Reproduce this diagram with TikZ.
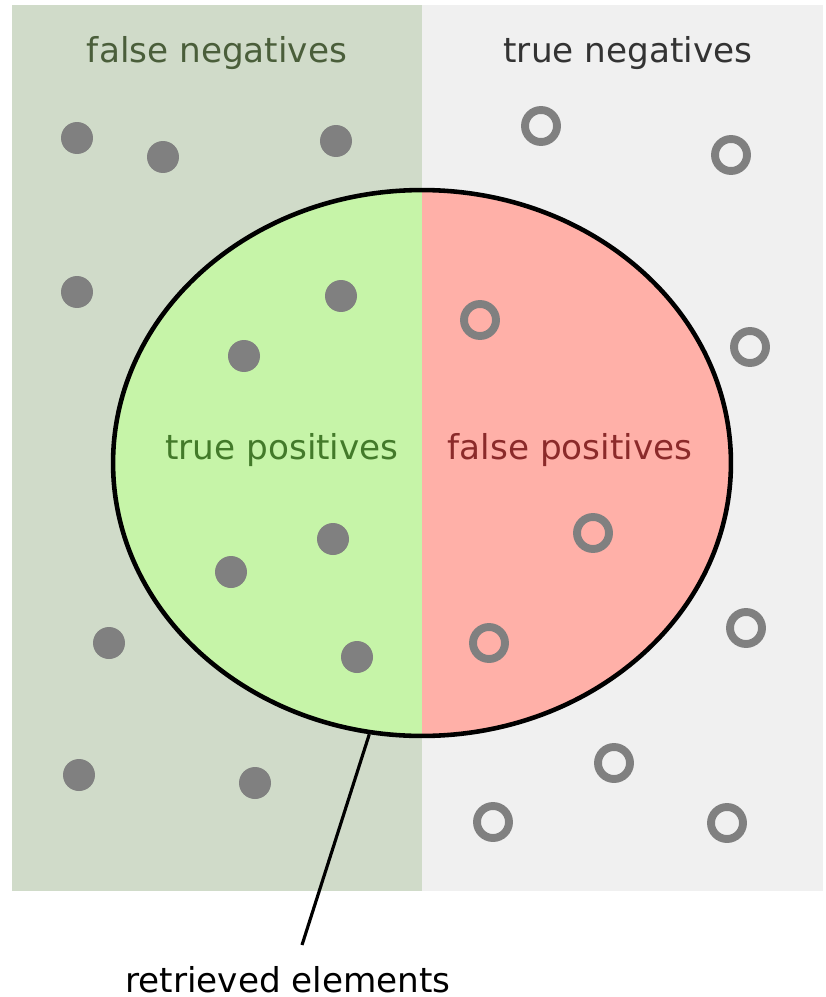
\documentclass[tikz,border=0pt]{standalone}
\usepackage{fontspec}
\setmainfont{DejaVu Sans}
\usepackage{xcolor}
\usetikzlibrary{shapes.geometric}

\definecolor{fnbg}{HTML}{D0DBC9}
\definecolor{tnbg}{HTML}{F0F0F0}
\definecolor{tpfill}{HTML}{C6F4A8}
\definecolor{fpfill}{HTML}{FFB0A8}
\definecolor{fntext}{HTML}{4A5E3A}
\definecolor{tptext}{HTML}{437A2A}
\definecolor{fptext}{HTML}{8B2A2A}
\definecolor{tntext}{HTML}{333333}
\definecolor{dotgray}{HTML}{808080}

\begin{document}
\begin{tikzpicture}[x=0.02cm,y=-0.02cm,
  lbl/.style={anchor=base,inner sep=0pt,font=\fontsize{19.5}{23}\selectfont},
  hit/.style={circle,fill=dotgray,minimum size=0.64cm,inner sep=0pt},
  miss/.style={circle,draw=dotgray,line width=4.5pt,minimum size=0.64cm,inner sep=0pt},
  retset/.style={ellipse,draw=black,line width=2.6pt,
    minimum width=12.36cm,minimum height=10.92cm,inner sep=0pt,
    path picture={
      \fill[tpfill] (path picture bounding box.south west) rectangle (path picture bounding box.north);
      \fill[fpfill] (path picture bounding box.south) rectangle (path picture bounding box.north east);
    }}
]
\useasboundingbox (0,0) rectangle (825,997);
% relevant / irrelevant halves
\fill[fnbg] (12,5) rectangle (422,891);
\fill[tnbg] (422,5) rectangle (823,891);

\node[lbl,text=fntext] (fn) at (217,63) {false negatives};
\node[lbl,text=tntext] (tn) at (628,63) {true negatives};

% retrieved set
\node[retset] (ret) at (422,463) {};
\node[lbl,text=tptext] (tp) at (282,459) {true positives};
\node[lbl,text=fptext] (fp) at (570,459) {false positives};

% relevant elements
\foreach \x/\y [count=\i] in {77/138,163/157,336/141,77/292,341/296,244/356,
    333/539,231/572,109/643,357/657,79/775,255/783}
  \node[hit] (r\i) at (\x,\y) {};

% irrelevant elements
\foreach \x/\y [count=\i] in {541/126,731/155,480/320,750/347,593/533,489/643,
    746/628,614/763,493/822,727/823}
  \node[miss] (n\i) at (\x,\y) {};

% callout
\node[lbl] (rl) at (288,992) {retrieved elements};
\coordinate (tip) at (302,945);
\draw[line width=1.8pt] (ret.259) -- (tip);
\end{tikzpicture}
\end{document}
